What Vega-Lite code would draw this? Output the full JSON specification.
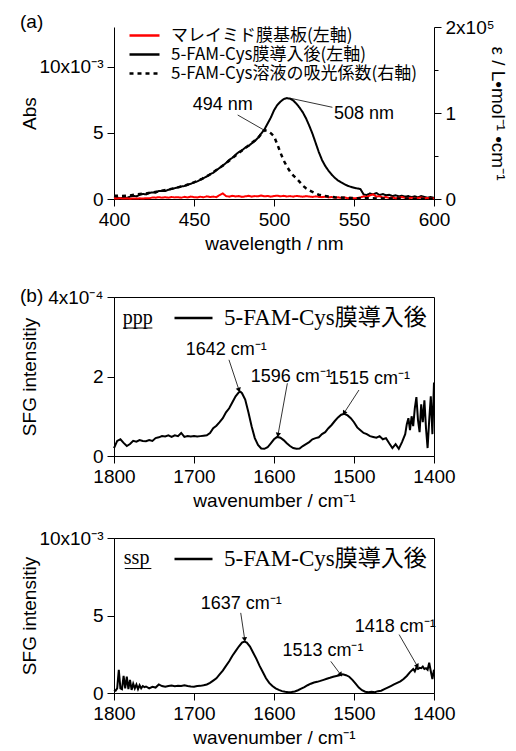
{
"$schema": "https://vega.github.io/schema/vega-lite/v6.json",
"autosize": {"type": "pad"},
"padding": {"left": 19, "top": 13, "right": 2, "bottom": 0},
"config": {
  "font": "Liberation Sans",
  "view": {"stroke": "black", "strokeWidth": 1},
  "axis": {"grid": false, "domainColor": "black", "tickColor": "black", "labelColor": "black", "titleColor": "black", "labelFont": "Liberation Sans", "titleFont": "Liberation Sans", "labelFontSize": 19, "titleFontSize": 19, "titleFontWeight": "normal", "tickSize": 7, "labelPadding": 4, "domainWidth": 1, "labelOverlap": false, "labelFlush": false},
  "legend": {"labelLimit": 500},
  "title": {"font": "Liberation Sans", "fontSize": 19, "fontWeight": "normal", "color": "black"}
},
"datasets": {
  "abs": [
    {"wl":400,"a":0.05e-3,"s":"5-FAM-Cys膜導入後(左軸)"},{"wl":402,"a":0.1e-3,"s":"5-FAM-Cys膜導入後(左軸)"},{"wl":404,"a":0.05e-3,"s":"5-FAM-Cys膜導入後(左軸)"},{"wl":406,"a":0.12e-3,"s":"5-FAM-Cys膜導入後(左軸)"},{"wl":408,"a":0.08e-3,"s":"5-FAM-Cys膜導入後(左軸)"},{"wl":410,"a":0.18e-3,"s":"5-FAM-Cys膜導入後(左軸)"},{"wl":412,"a":0.25e-3,"s":"5-FAM-Cys膜導入後(左軸)"},{"wl":414,"a":0.2e-3,"s":"5-FAM-Cys膜導入後(左軸)"},{"wl":416,"a":0.32e-3,"s":"5-FAM-Cys膜導入後(左軸)"},{"wl":418,"a":0.38e-3,"s":"5-FAM-Cys膜導入後(左軸)"},
    {"wl":420,"a":0.35e-3,"s":"5-FAM-Cys膜導入後(左軸)"},{"wl":422,"a":0.45e-3,"s":"5-FAM-Cys膜導入後(左軸)"},{"wl":424,"a":0.5e-3,"s":"5-FAM-Cys膜導入後(左軸)"},{"wl":426,"a":0.48e-3,"s":"5-FAM-Cys膜導入後(左軸)"},{"wl":428,"a":0.6e-3,"s":"5-FAM-Cys膜導入後(左軸)"},{"wl":430,"a":0.62e-3,"s":"5-FAM-Cys膜導入後(左軸)"},{"wl":432,"a":0.6e-3,"s":"5-FAM-Cys膜導入後(左軸)"},{"wl":434,"a":0.7e-3,"s":"5-FAM-Cys膜導入後(左軸)"},{"wl":436,"a":0.75e-3,"s":"5-FAM-Cys膜導入後(左軸)"},{"wl":438,"a":0.82e-3,"s":"5-FAM-Cys膜導入後(左軸)"},
    {"wl":440,"a":0.88e-3,"s":"5-FAM-Cys膜導入後(左軸)"},{"wl":442,"a":0.95e-3,"s":"5-FAM-Cys膜導入後(左軸)"},{"wl":444,"a":0.98e-3,"s":"5-FAM-Cys膜導入後(左軸)"},{"wl":446,"a":1.08e-3,"s":"5-FAM-Cys膜導入後(左軸)"},{"wl":448,"a":1.15e-3,"s":"5-FAM-Cys膜導入後(左軸)"},{"wl":450,"a":1.26e-3,"s":"5-FAM-Cys膜導入後(左軸)"},{"wl":452,"a":1.33e-3,"s":"5-FAM-Cys膜導入後(左軸)"},{"wl":454,"a":1.45e-3,"s":"5-FAM-Cys膜導入後(左軸)"},{"wl":456,"a":1.58e-3,"s":"5-FAM-Cys膜導入後(左軸)"},{"wl":458,"a":1.7e-3,"s":"5-FAM-Cys膜導入後(左軸)"},
    {"wl":460,"a":1.87e-3,"s":"5-FAM-Cys膜導入後(左軸)"},{"wl":462,"a":1.98e-3,"s":"5-FAM-Cys膜導入後(左軸)"},{"wl":464,"a":2.18e-3,"s":"5-FAM-Cys膜導入後(左軸)"},{"wl":466,"a":2.35e-3,"s":"5-FAM-Cys膜導入後(左軸)"},{"wl":468,"a":2.52e-3,"s":"5-FAM-Cys膜導入後(左軸)"},{"wl":470,"a":2.72e-3,"s":"5-FAM-Cys膜導入後(左軸)"},{"wl":472,"a":2.95e-3,"s":"5-FAM-Cys膜導入後(左軸)"},{"wl":474,"a":3.12e-3,"s":"5-FAM-Cys膜導入後(左軸)"},{"wl":476,"a":3.35e-3,"s":"5-FAM-Cys膜導入後(左軸)"},{"wl":478,"a":3.55e-3,"s":"5-FAM-Cys膜導入後(左軸)"},
    {"wl":480,"a":3.68e-3,"s":"5-FAM-Cys膜導入後(左軸)"},{"wl":482,"a":3.88e-3,"s":"5-FAM-Cys膜導入後(左軸)"},{"wl":484,"a":4.0e-3,"s":"5-FAM-Cys膜導入後(左軸)"},{"wl":486,"a":4.2e-3,"s":"5-FAM-Cys膜導入後(左軸)"},{"wl":488,"a":4.38e-3,"s":"5-FAM-Cys膜導入後(左軸)"},{"wl":490,"a":4.62e-3,"s":"5-FAM-Cys膜導入後(左軸)"},{"wl":492,"a":4.95e-3,"s":"5-FAM-Cys膜導入後(左軸)"},{"wl":494,"a":5.25e-3,"s":"5-FAM-Cys膜導入後(左軸)"},{"wl":496,"a":5.7e-3,"s":"5-FAM-Cys膜導入後(左軸)"},{"wl":498,"a":6.15e-3,"s":"5-FAM-Cys膜導入後(左軸)"},
    {"wl":500,"a":6.7e-3,"s":"5-FAM-Cys膜導入後(左軸)"},{"wl":502,"a":7.1e-3,"s":"5-FAM-Cys膜導入後(左軸)"},{"wl":504,"a":7.35e-3,"s":"5-FAM-Cys膜導入後(左軸)"},{"wl":506,"a":7.55e-3,"s":"5-FAM-Cys膜導入後(左軸)"},{"wl":508,"a":7.63e-3,"s":"5-FAM-Cys膜導入後(左軸)"},{"wl":510,"a":7.58e-3,"s":"5-FAM-Cys膜導入後(左軸)"},{"wl":512,"a":7.45e-3,"s":"5-FAM-Cys膜導入後(左軸)"},{"wl":514,"a":7.2e-3,"s":"5-FAM-Cys膜導入後(左軸)"},{"wl":516,"a":6.9e-3,"s":"5-FAM-Cys膜導入後(左軸)"},{"wl":518,"a":6.55e-3,"s":"5-FAM-Cys膜導入後(左軸)"},
    {"wl":520,"a":6.1e-3,"s":"5-FAM-Cys膜導入後(左軸)"},{"wl":522,"a":5.55e-3,"s":"5-FAM-Cys膜導入後(左軸)"},{"wl":524,"a":4.95e-3,"s":"5-FAM-Cys膜導入後(左軸)"},{"wl":526,"a":4.25e-3,"s":"5-FAM-Cys膜導入後(左軸)"},{"wl":528,"a":3.55e-3,"s":"5-FAM-Cys膜導入後(左軸)"},{"wl":530,"a":2.95e-3,"s":"5-FAM-Cys膜導入後(左軸)"},{"wl":532,"a":2.5e-3,"s":"5-FAM-Cys膜導入後(左軸)"},{"wl":534,"a":2.15e-3,"s":"5-FAM-Cys膜導入後(左軸)"},{"wl":536,"a":1.85e-3,"s":"5-FAM-Cys膜導入後(左軸)"},{"wl":538,"a":1.6e-3,"s":"5-FAM-Cys膜導入後(左軸)"},
    {"wl":540,"a":1.4e-3,"s":"5-FAM-Cys膜導入後(左軸)"},{"wl":542,"a":1.25e-3,"s":"5-FAM-Cys膜導入後(左軸)"},{"wl":544,"a":1.12e-3,"s":"5-FAM-Cys膜導入後(左軸)"},{"wl":546,"a":1.0e-3,"s":"5-FAM-Cys膜導入後(左軸)"},{"wl":548,"a":0.92e-3,"s":"5-FAM-Cys膜導入後(左軸)"},{"wl":550,"a":0.85e-3,"s":"5-FAM-Cys膜導入後(左軸)"},{"wl":552,"a":0.8e-3,"s":"5-FAM-Cys膜導入後(左軸)"},{"wl":554,"a":0.75e-3,"s":"5-FAM-Cys膜導入後(左軸)"},{"wl":556,"a":0.35e-3,"s":"5-FAM-Cys膜導入後(左軸)"},{"wl":558,"a":0.3e-3,"s":"5-FAM-Cys膜導入後(左軸)"},
    {"wl":560,"a":0.42e-3,"s":"5-FAM-Cys膜導入後(左軸)"},{"wl":562,"a":0.35e-3,"s":"5-FAM-Cys膜導入後(左軸)"},{"wl":564,"a":0.45e-3,"s":"5-FAM-Cys膜導入後(左軸)"},{"wl":566,"a":0.3e-3,"s":"5-FAM-Cys膜導入後(左軸)"},{"wl":568,"a":0.38e-3,"s":"5-FAM-Cys膜導入後(左軸)"},{"wl":570,"a":0.28e-3,"s":"5-FAM-Cys膜導入後(左軸)"},{"wl":572,"a":0.32e-3,"s":"5-FAM-Cys膜導入後(左軸)"},{"wl":574,"a":0.22e-3,"s":"5-FAM-Cys膜導入後(左軸)"},{"wl":576,"a":0.28e-3,"s":"5-FAM-Cys膜導入後(左軸)"},{"wl":578,"a":0.2e-3,"s":"5-FAM-Cys膜導入後(左軸)"},
    {"wl":580,"a":0.25e-3,"s":"5-FAM-Cys膜導入後(左軸)"},{"wl":582,"a":0.18e-3,"s":"5-FAM-Cys膜導入後(左軸)"},{"wl":584,"a":0.22e-3,"s":"5-FAM-Cys膜導入後(左軸)"},{"wl":586,"a":0.15e-3,"s":"5-FAM-Cys膜導入後(左軸)"},{"wl":588,"a":0.2e-3,"s":"5-FAM-Cys膜導入後(左軸)"},{"wl":590,"a":0.12e-3,"s":"5-FAM-Cys膜導入後(左軸)"},{"wl":592,"a":0.22e-3,"s":"5-FAM-Cys膜導入後(左軸)"},{"wl":594,"a":0.15e-3,"s":"5-FAM-Cys膜導入後(左軸)"},{"wl":596,"a":0.1e-3,"s":"5-FAM-Cys膜導入後(左軸)"},{"wl":598,"a":0.15e-3,"s":"5-FAM-Cys膜導入後(左軸)"},{"wl":600,"a":0.08e-3,"s":"5-FAM-Cys膜導入後(左軸)"},
    {"wl":400,"a":0.05e-3,"s":"マレイミド膜基板(左軸)"},{"wl":402,"a":0.04e-3,"s":"マレイミド膜基板(左軸)"},{"wl":404,"a":0.06e-3,"s":"マレイミド膜基板(左軸)"},{"wl":406,"a":0.03e-3,"s":"マレイミド膜基板(左軸)"},{"wl":408,"a":0.05e-3,"s":"マレイミド膜基板(左軸)"},{"wl":410,"a":0.02e-3,"s":"マレイミド膜基板(左軸)"},{"wl":412,"a":0.04e-3,"s":"マレイミド膜基板(左軸)"},{"wl":414,"a":0.03e-3,"s":"マレイミド膜基板(左軸)"},{"wl":416,"a":0.05e-3,"s":"マレイミド膜基板(左軸)"},{"wl":418,"a":0.04e-3,"s":"マレイミド膜基板(左軸)"},
    {"wl":420,"a":0.06e-3,"s":"マレイミド膜基板(左軸)"},{"wl":422,"a":0.05e-3,"s":"マレイミド膜基板(左軸)"},{"wl":424,"a":0.12e-3,"s":"マレイミド膜基板(左軸)"},{"wl":426,"a":0.1e-3,"s":"マレイミド膜基板(左軸)"},{"wl":428,"a":0.14e-3,"s":"マレイミド膜基板(左軸)"},{"wl":430,"a":0.1e-3,"s":"マレイミド膜基板(左軸)"},{"wl":432,"a":0.13e-3,"s":"マレイミド膜基板(左軸)"},{"wl":434,"a":0.1e-3,"s":"マレイミド膜基板(左軸)"},{"wl":436,"a":0.15e-3,"s":"マレイミド膜基板(左軸)"},{"wl":438,"a":0.12e-3,"s":"マレイミド膜基板(左軸)"},
    {"wl":440,"a":0.14e-3,"s":"マレイミド膜基板(左軸)"},{"wl":442,"a":0.1e-3,"s":"マレイミド膜基板(左軸)"},{"wl":444,"a":0.16e-3,"s":"マレイミド膜基板(左軸)"},{"wl":446,"a":0.12e-3,"s":"マレイミド膜基板(左軸)"},{"wl":448,"a":0.18e-3,"s":"マレイミド膜基板(左軸)"},{"wl":450,"a":0.14e-3,"s":"マレイミド膜基板(左軸)"},{"wl":452,"a":0.12e-3,"s":"マレイミド膜基板(左軸)"},{"wl":454,"a":0.17e-3,"s":"マレイミド膜基板(左軸)"},{"wl":456,"a":0.13e-3,"s":"マレイミド膜基板(左軸)"},{"wl":458,"a":0.2e-3,"s":"マレイミド膜基板(左軸)"},
    {"wl":460,"a":0.15e-3,"s":"マレイミド膜基板(左軸)"},{"wl":462,"a":0.18e-3,"s":"マレイミド膜基板(左軸)"},{"wl":464,"a":0.14e-3,"s":"マレイミド膜基板(左軸)"},{"wl":466,"a":0.3e-3,"s":"マレイミド膜基板(左軸)"},{"wl":468,"a":0.42e-3,"s":"マレイミド膜基板(左軸)"},{"wl":470,"a":0.22e-3,"s":"マレイミド膜基板(左軸)"},{"wl":472,"a":0.18e-3,"s":"マレイミド膜基板(左軸)"},{"wl":474,"a":0.24e-3,"s":"マレイミド膜基板(左軸)"},{"wl":476,"a":0.19e-3,"s":"マレイミド膜基板(左軸)"},{"wl":478,"a":0.22e-3,"s":"マレイミド膜基板(左軸)"},
    {"wl":480,"a":0.16e-3,"s":"マレイミド膜基板(左軸)"},{"wl":482,"a":0.2e-3,"s":"マレイミド膜基板(左軸)"},{"wl":484,"a":0.24e-3,"s":"マレイミド膜基板(左軸)"},{"wl":486,"a":0.18e-3,"s":"マレイミド膜基板(左軸)"},{"wl":488,"a":0.22e-3,"s":"マレイミド膜基板(左軸)"},{"wl":490,"a":0.2e-3,"s":"マレイミド膜基板(左軸)"},{"wl":492,"a":0.26e-3,"s":"マレイミド膜基板(左軸)"},{"wl":494,"a":0.2e-3,"s":"マレイミド膜基板(左軸)"},{"wl":496,"a":0.23e-3,"s":"マレイミド膜基板(左軸)"},{"wl":498,"a":0.18e-3,"s":"マレイミド膜基板(左軸)"},
    {"wl":500,"a":0.22e-3,"s":"マレイミド膜基板(左軸)"},{"wl":502,"a":0.25e-3,"s":"マレイミド膜基板(左軸)"},{"wl":504,"a":0.2e-3,"s":"マレイミド膜基板(左軸)"},{"wl":506,"a":0.24e-3,"s":"マレイミド膜基板(左軸)"},{"wl":508,"a":0.19e-3,"s":"マレイミド膜基板(左軸)"},{"wl":510,"a":0.22e-3,"s":"マレイミド膜基板(左軸)"},{"wl":512,"a":0.18e-3,"s":"マレイミド膜基板(左軸)"},{"wl":514,"a":0.23e-3,"s":"マレイミド膜基板(左軸)"},{"wl":516,"a":0.2e-3,"s":"マレイミド膜基板(左軸)"},{"wl":518,"a":0.17e-3,"s":"マレイミド膜基板(左軸)"},
    {"wl":520,"a":0.22e-3,"s":"マレイミド膜基板(左軸)"},{"wl":522,"a":0.19e-3,"s":"マレイミド膜基板(左軸)"},{"wl":524,"a":0.15e-3,"s":"マレイミド膜基板(左軸)"},{"wl":526,"a":0.2e-3,"s":"マレイミド膜基板(左軸)"},{"wl":528,"a":0.16e-3,"s":"マレイミド膜基板(左軸)"},{"wl":530,"a":0.14e-3,"s":"マレイミド膜基板(左軸)"},{"wl":532,"a":0.18e-3,"s":"マレイミド膜基板(左軸)"},{"wl":534,"a":0.12e-3,"s":"マレイミド膜基板(左軸)"},{"wl":536,"a":0.15e-3,"s":"マレイミド膜基板(左軸)"},{"wl":538,"a":0.1e-3,"s":"マレイミド膜基板(左軸)"},
    {"wl":540,"a":0.13e-3,"s":"マレイミド膜基板(左軸)"},{"wl":542,"a":0.08e-3,"s":"マレイミド膜基板(左軸)"},{"wl":544,"a":0.12e-3,"s":"マレイミド膜基板(左軸)"},{"wl":546,"a":0.06e-3,"s":"マレイミド膜基板(左軸)"},{"wl":548,"a":0.1e-3,"s":"マレイミド膜基板(左軸)"},{"wl":550,"a":0.05e-3,"s":"マレイミド膜基板(左軸)"},{"wl":552,"a":0.08e-3,"s":"マレイミド膜基板(左軸)"},{"wl":554,"a":0.12e-3,"s":"マレイミド膜基板(左軸)"},{"wl":556,"a":0.2e-3,"s":"マレイミド膜基板(左軸)"},{"wl":558,"a":0.15e-3,"s":"マレイミド膜基板(左軸)"},
    {"wl":560,"a":0.28e-3,"s":"マレイミド膜基板(左軸)"},{"wl":562,"a":0.35e-3,"s":"マレイミド膜基板(左軸)"},{"wl":564,"a":0.18e-3,"s":"マレイミド膜基板(左軸)"},{"wl":566,"a":0.22e-3,"s":"マレイミド膜基板(左軸)"},{"wl":568,"a":0.1e-3,"s":"マレイミド膜基板(左軸)"},{"wl":570,"a":0.15e-3,"s":"マレイミド膜基板(左軸)"},{"wl":572,"a":0.08e-3,"s":"マレイミド膜基板(左軸)"},{"wl":574,"a":0.12e-3,"s":"マレイミド膜基板(左軸)"},{"wl":576,"a":0.05e-3,"s":"マレイミド膜基板(左軸)"},{"wl":578,"a":0.1e-3,"s":"マレイミド膜基板(左軸)"},
    {"wl":580,"a":0.15e-3,"s":"マレイミド膜基板(左軸)"},{"wl":582,"a":0.08e-3,"s":"マレイミド膜基板(左軸)"},{"wl":584,"a":0.05e-3,"s":"マレイミド膜基板(左軸)"},{"wl":586,"a":0.1e-3,"s":"マレイミド膜基板(左軸)"},{"wl":588,"a":0.04e-3,"s":"マレイミド膜基板(左軸)"},{"wl":590,"a":0.08e-3,"s":"マレイミド膜基板(左軸)"},{"wl":592,"a":0.12e-3,"s":"マレイミド膜基板(左軸)"},{"wl":594,"a":0.05e-3,"s":"マレイミド膜基板(左軸)"},{"wl":596,"a":0.08e-3,"s":"マレイミド膜基板(左軸)"},{"wl":598,"a":0.03e-3,"s":"マレイミド膜基板(左軸)"},{"wl":600,"a":0.06e-3,"s":"マレイミド膜基板(左軸)"}
  ],
  "eps": [
    {"wl":400,"e":3800},{"wl":405,"e":3500},{"wl":410,"e":4200},{"wl":415,"e":5500},{"wl":420,"e":6500},{"wl":425,"e":8000},{"wl":430,"e":9700},{"wl":435,"e":11500},{"wl":440,"e":13500},{"wl":445,"e":16000},{"wl":450,"e":19400},{"wl":455,"e":23500},{"wl":460,"e":28500},{"wl":465,"e":35000},{"wl":470,"e":41500},{"wl":475,"e":49000},{"wl":480,"e":56500},{"wl":485,"e":63500},{"wl":490,"e":71000},{"wl":494,"e":80000},{"wl":496,"e":79000},{"wl":498,"e":76500},{"wl":500,"e":73000},{"wl":502,"e":64000},{"wl":504,"e":54000},{"wl":506,"e":45000},{"wl":508,"e":38000},{"wl":510,"e":32000},{"wl":512,"e":27500},{"wl":514,"e":24000},{"wl":516,"e":20000},{"wl":518,"e":15500},{"wl":520,"e":12500},{"wl":522,"e":10000},{"wl":524,"e":8200},{"wl":526,"e":6500},{"wl":528,"e":5000},{"wl":530,"e":4000},{"wl":534,"e":2800},{"wl":538,"e":2000},{"wl":545,"e":1300},{"wl":550,"e":1000},{"wl":560,"e":800},{"wl":570,"e":600},{"wl":580,"e":500},{"wl":590,"e":400},{"wl":600,"e":400}
  ],
  "annA": [{"x":449.2,"y":7.1e-3,"t":"494 nm"},{"x":537.5,"y":6.4e-3,"t":"508 nm"}],
  "leadA": [{"x":477.3,"y":6.35e-3,"x2":493.6,"y2":5.22e-3},{"x":510,"y":7.62e-3,"x2":536.5,"y2":6.93e-3}],
  "sfgP": [
    {"n":1800,"v":0.2e-4,"p":"5-FAM-Cys膜導入後"},{"n":1796,"v":0.38e-4,"p":"5-FAM-Cys膜導入後"},{"n":1792,"v":0.42e-4,"p":"5-FAM-Cys膜導入後"},{"n":1788,"v":0.33e-4,"p":"5-FAM-Cys膜導入後"},{"n":1784,"v":0.25e-4,"p":"5-FAM-Cys膜導入後"},{"n":1780,"v":0.3e-4,"p":"5-FAM-Cys膜導入後"},{"n":1776,"v":0.38e-4,"p":"5-FAM-Cys膜導入後"},{"n":1772,"v":0.36e-4,"p":"5-FAM-Cys膜導入後"},{"n":1768,"v":0.4e-4,"p":"5-FAM-Cys膜導入後"},{"n":1764,"v":0.38e-4,"p":"5-FAM-Cys膜導入後"},
    {"n":1760,"v":0.37e-4,"p":"5-FAM-Cys膜導入後"},{"n":1756,"v":0.4e-4,"p":"5-FAM-Cys膜導入後"},{"n":1752,"v":0.38e-4,"p":"5-FAM-Cys膜導入後"},{"n":1748,"v":0.45e-4,"p":"5-FAM-Cys膜導入後"},{"n":1744,"v":0.47e-4,"p":"5-FAM-Cys膜導入後"},{"n":1740,"v":0.5e-4,"p":"5-FAM-Cys膜導入後"},{"n":1736,"v":0.49e-4,"p":"5-FAM-Cys膜導入後"},{"n":1732,"v":0.52e-4,"p":"5-FAM-Cys膜導入後"},{"n":1728,"v":0.48e-4,"p":"5-FAM-Cys膜導入後"},{"n":1724,"v":0.52e-4,"p":"5-FAM-Cys膜導入後"},
    {"n":1720,"v":0.5e-4,"p":"5-FAM-Cys膜導入後"},{"n":1716,"v":0.58e-4,"p":"5-FAM-Cys膜導入後"},{"n":1712,"v":0.48e-4,"p":"5-FAM-Cys膜導入後"},{"n":1708,"v":0.5e-4,"p":"5-FAM-Cys膜導入後"},{"n":1704,"v":0.49e-4,"p":"5-FAM-Cys膜導入後"},{"n":1700,"v":0.5e-4,"p":"5-FAM-Cys膜導入後"},{"n":1696,"v":0.49e-4,"p":"5-FAM-Cys膜導入後"},{"n":1692,"v":0.5e-4,"p":"5-FAM-Cys膜導入後"},{"n":1688,"v":0.51e-4,"p":"5-FAM-Cys膜導入後"},{"n":1684,"v":0.52e-4,"p":"5-FAM-Cys膜導入後"},
    {"n":1680,"v":0.58e-4,"p":"5-FAM-Cys膜導入後"},{"n":1676,"v":0.7e-4,"p":"5-FAM-Cys膜導入後"},{"n":1672,"v":0.76e-4,"p":"5-FAM-Cys膜導入後"},{"n":1668,"v":0.85e-4,"p":"5-FAM-Cys膜導入後"},{"n":1664,"v":0.95e-4,"p":"5-FAM-Cys膜導入後"},{"n":1660,"v":1.1e-4,"p":"5-FAM-Cys膜導入後"},{"n":1656,"v":1.2e-4,"p":"5-FAM-Cys膜導入後"},{"n":1652,"v":1.35e-4,"p":"5-FAM-Cys膜導入後"},{"n":1648,"v":1.5e-4,"p":"5-FAM-Cys膜導入後"},{"n":1644,"v":1.6e-4,"p":"5-FAM-Cys膜導入後"},
    {"n":1642,"v":1.62e-4,"p":"5-FAM-Cys膜導入後"},{"n":1640,"v":1.58e-4,"p":"5-FAM-Cys膜導入後"},{"n":1636,"v":1.42e-4,"p":"5-FAM-Cys膜導入後"},{"n":1632,"v":1.1e-4,"p":"5-FAM-Cys膜導入後"},{"n":1628,"v":0.75e-4,"p":"5-FAM-Cys膜導入後"},{"n":1624,"v":0.45e-4,"p":"5-FAM-Cys膜導入後"},{"n":1620,"v":0.28e-4,"p":"5-FAM-Cys膜導入後"},{"n":1616,"v":0.19e-4,"p":"5-FAM-Cys膜導入後"},{"n":1612,"v":0.18e-4,"p":"5-FAM-Cys膜導入後"},{"n":1608,"v":0.22e-4,"p":"5-FAM-Cys膜導入後"},
    {"n":1604,"v":0.32e-4,"p":"5-FAM-Cys膜導入後"},{"n":1600,"v":0.42e-4,"p":"5-FAM-Cys膜導入後"},{"n":1596,"v":0.48e-4,"p":"5-FAM-Cys膜導入後"},{"n":1592,"v":0.46e-4,"p":"5-FAM-Cys膜導入後"},{"n":1588,"v":0.4e-4,"p":"5-FAM-Cys膜導入後"},{"n":1584,"v":0.32e-4,"p":"5-FAM-Cys膜導入後"},{"n":1580,"v":0.25e-4,"p":"5-FAM-Cys膜導入後"},{"n":1576,"v":0.2e-4,"p":"5-FAM-Cys膜導入後"},{"n":1572,"v":0.18e-4,"p":"5-FAM-Cys膜導入後"},{"n":1568,"v":0.19e-4,"p":"5-FAM-Cys膜導入後"},
    {"n":1564,"v":0.25e-4,"p":"5-FAM-Cys膜導入後"},{"n":1560,"v":0.3e-4,"p":"5-FAM-Cys膜導入後"},{"n":1556,"v":0.35e-4,"p":"5-FAM-Cys膜導入後"},{"n":1552,"v":0.42e-4,"p":"5-FAM-Cys膜導入後"},{"n":1548,"v":0.45e-4,"p":"5-FAM-Cys膜導入後"},{"n":1544,"v":0.47e-4,"p":"5-FAM-Cys膜導入後"},{"n":1540,"v":0.55e-4,"p":"5-FAM-Cys膜導入後"},{"n":1536,"v":0.6e-4,"p":"5-FAM-Cys膜導入後"},{"n":1532,"v":0.7e-4,"p":"5-FAM-Cys膜導入後"},{"n":1528,"v":0.78e-4,"p":"5-FAM-Cys膜導入後"},
    {"n":1524,"v":0.88e-4,"p":"5-FAM-Cys膜導入後"},{"n":1520,"v":0.97e-4,"p":"5-FAM-Cys膜導入後"},{"n":1516,"v":1.04e-4,"p":"5-FAM-Cys膜導入後"},{"n":1512,"v":1.06e-4,"p":"5-FAM-Cys膜導入後"},{"n":1508,"v":1.02e-4,"p":"5-FAM-Cys膜導入後"},{"n":1504,"v":0.95e-4,"p":"5-FAM-Cys膜導入後"},{"n":1500,"v":0.85e-4,"p":"5-FAM-Cys膜導入後"},{"n":1496,"v":0.72e-4,"p":"5-FAM-Cys膜導入後"},{"n":1492,"v":0.65e-4,"p":"5-FAM-Cys膜導入後"},{"n":1488,"v":0.58e-4,"p":"5-FAM-Cys膜導入後"},
    {"n":1484,"v":0.55e-4,"p":"5-FAM-Cys膜導入後"},{"n":1480,"v":0.5e-4,"p":"5-FAM-Cys膜導入後"},{"n":1476,"v":0.48e-4,"p":"5-FAM-Cys膜導入後"},{"n":1472,"v":0.46e-4,"p":"5-FAM-Cys膜導入後"},{"n":1468,"v":0.5e-4,"p":"5-FAM-Cys膜導入後"},{"n":1464,"v":0.42e-4,"p":"5-FAM-Cys膜導入後"},{"n":1460,"v":0.45e-4,"p":"5-FAM-Cys膜導入後"},{"n":1456,"v":0.32e-4,"p":"5-FAM-Cys膜導入後"},{"n":1452,"v":0.2e-4,"p":"5-FAM-Cys膜導入後"},{"n":1448,"v":0.3e-4,"p":"5-FAM-Cys膜導入後"},
    {"n":1444,"v":0.18e-4,"p":"5-FAM-Cys膜導入後"},{"n":1440,"v":0.35e-4,"p":"5-FAM-Cys膜導入後"},{"n":1436,"v":0.55e-4,"p":"5-FAM-Cys膜導入後"},{"n":1434,"v":0.8e-4,"p":"5-FAM-Cys膜導入後"},{"n":1432,"v":0.95e-4,"p":"5-FAM-Cys膜導入後"},{"n":1430,"v":0.65e-4,"p":"5-FAM-Cys膜導入後"},{"n":1428,"v":1.0e-4,"p":"5-FAM-Cys膜導入後"},{"n":1426,"v":0.75e-4,"p":"5-FAM-Cys膜導入後"},{"n":1424,"v":1.2e-4,"p":"5-FAM-Cys膜導入後"},{"n":1422,"v":1.48e-4,"p":"5-FAM-Cys膜導入後"},
    {"n":1420,"v":0.9e-4,"p":"5-FAM-Cys膜導入後"},{"n":1418,"v":0.6e-4,"p":"5-FAM-Cys膜導入後"},{"n":1416,"v":1.3e-4,"p":"5-FAM-Cys膜導入後"},{"n":1414,"v":0.85e-4,"p":"5-FAM-Cys膜導入後"},{"n":1412,"v":1.4e-4,"p":"5-FAM-Cys膜導入後"},{"n":1410,"v":0.7e-4,"p":"5-FAM-Cys膜導入後"},{"n":1408,"v":0.2e-4,"p":"5-FAM-Cys膜導入後"},{"n":1406,"v":0.9e-4,"p":"5-FAM-Cys膜導入後"},{"n":1404,"v":1.5e-4,"p":"5-FAM-Cys膜導入後"},{"n":1402,"v":0.55e-4,"p":"5-FAM-Cys膜導入後"},{"n":1400,"v":1.85e-4,"p":"5-FAM-Cys膜導入後"}
  ],
  "annP": [{"x":1710.4,"y":2.67e-4,"t":"1642 cm⁻¹"},{"x":1629.1,"y":2.0e-4,"t":"1596 cm⁻¹"},{"x":1531.2,"y":1.94e-4,"t":"1515 cm⁻¹"}],
  "leadP": [{"x":1656.3,"y":2.42e-4,"x2":1643.8,"y2":1.66e-4,"k":1},{"x":1583.3,"y":1.83e-4,"x2":1595.0,"y2":0.53e-4,"k":2},{"x":1493.8,"y":1.66e-4,"x2":1512.5,"y2":1.08e-4,"k":3}],
  "polP": [{"x":1789,"y":3.48e-4,"t":"ppp"}],
  "ulP": [{"x":1788.7,"x2":1752,"y":3.22e-4}],
  "sfgS": [
    {"n":1800,"v":0.2e-3,"q":"5-FAM-Cys膜導入後"},{"n":1798,"v":0.15e-3,"q":"5-FAM-Cys膜導入後"},{"n":1796,"v":0.3e-3,"q":"5-FAM-Cys膜導入後"},{"n":1794,"v":1.5e-3,"q":"5-FAM-Cys膜導入後"},{"n":1792,"v":0.3e-3,"q":"5-FAM-Cys膜導入後"},{"n":1790,"v":0.25e-3,"q":"5-FAM-Cys膜導入後"},{"n":1788,"v":1.1e-3,"q":"5-FAM-Cys膜導入後"},{"n":1786,"v":0.3e-3,"q":"5-FAM-Cys膜導入後"},{"n":1784,"v":1.05e-3,"q":"5-FAM-Cys膜導入後"},{"n":1782,"v":0.25e-3,"q":"5-FAM-Cys膜導入後"},
    {"n":1780,"v":0.85e-3,"q":"5-FAM-Cys膜導入後"},{"n":1778,"v":0.2e-3,"q":"5-FAM-Cys膜導入後"},{"n":1776,"v":0.6e-3,"q":"5-FAM-Cys膜導入後"},{"n":1774,"v":0.3e-3,"q":"5-FAM-Cys膜導入後"},{"n":1772,"v":0.55e-3,"q":"5-FAM-Cys膜導入後"},{"n":1770,"v":0.25e-3,"q":"5-FAM-Cys膜導入後"},{"n":1768,"v":0.5e-3,"q":"5-FAM-Cys膜導入後"},{"n":1766,"v":0.3e-3,"q":"5-FAM-Cys膜導入後"},{"n":1764,"v":0.45e-3,"q":"5-FAM-Cys膜導入後"},{"n":1762,"v":0.38e-3,"q":"5-FAM-Cys膜導入後"},
    {"n":1760,"v":0.42e-3,"q":"5-FAM-Cys膜導入後"},{"n":1756,"v":0.3e-3,"q":"5-FAM-Cys膜導入後"},{"n":1752,"v":0.4e-3,"q":"5-FAM-Cys膜導入後"},{"n":1748,"v":0.35e-3,"q":"5-FAM-Cys膜導入後"},{"n":1744,"v":0.55e-3,"q":"5-FAM-Cys膜導入後"},{"n":1740,"v":0.45e-3,"q":"5-FAM-Cys膜導入後"},{"n":1736,"v":0.4e-3,"q":"5-FAM-Cys膜導入後"},{"n":1732,"v":0.45e-3,"q":"5-FAM-Cys膜導入後"},{"n":1728,"v":0.48e-3,"q":"5-FAM-Cys膜導入後"},{"n":1724,"v":0.44e-3,"q":"5-FAM-Cys膜導入後"},
    {"n":1720,"v":0.47e-3,"q":"5-FAM-Cys膜導入後"},{"n":1716,"v":0.45e-3,"q":"5-FAM-Cys膜導入後"},{"n":1712,"v":0.5e-3,"q":"5-FAM-Cys膜導入後"},{"n":1708,"v":0.45e-3,"q":"5-FAM-Cys膜導入後"},{"n":1704,"v":0.42e-3,"q":"5-FAM-Cys膜導入後"},{"n":1700,"v":0.4e-3,"q":"5-FAM-Cys膜導入後"},{"n":1696,"v":0.45e-3,"q":"5-FAM-Cys膜導入後"},{"n":1692,"v":0.46e-3,"q":"5-FAM-Cys膜導入後"},{"n":1688,"v":0.5e-3,"q":"5-FAM-Cys膜導入後"},{"n":1684,"v":0.55e-3,"q":"5-FAM-Cys膜導入後"},
    {"n":1680,"v":0.65e-3,"q":"5-FAM-Cys膜導入後"},{"n":1676,"v":0.8e-3,"q":"5-FAM-Cys膜導入後"},{"n":1672,"v":0.95e-3,"q":"5-FAM-Cys膜導入後"},{"n":1668,"v":1.2e-3,"q":"5-FAM-Cys膜導入後"},{"n":1664,"v":1.45e-3,"q":"5-FAM-Cys膜導入後"},{"n":1660,"v":1.75e-3,"q":"5-FAM-Cys膜導入後"},{"n":1656,"v":2.05e-3,"q":"5-FAM-Cys膜導入後"},{"n":1652,"v":2.4e-3,"q":"5-FAM-Cys膜導入後"},{"n":1648,"v":2.7e-3,"q":"5-FAM-Cys膜導入後"},{"n":1644,"v":3.0e-3,"q":"5-FAM-Cys膜導入後"},
    {"n":1640,"v":3.25e-3,"q":"5-FAM-Cys膜導入後"},{"n":1637,"v":3.32e-3,"q":"5-FAM-Cys膜導入後"},{"n":1634,"v":3.25e-3,"q":"5-FAM-Cys膜導入後"},{"n":1630,"v":3.0e-3,"q":"5-FAM-Cys膜導入後"},{"n":1626,"v":2.6e-3,"q":"5-FAM-Cys膜導入後"},{"n":1622,"v":2.2e-3,"q":"5-FAM-Cys膜導入後"},{"n":1618,"v":1.75e-3,"q":"5-FAM-Cys膜導入後"},{"n":1614,"v":1.35e-3,"q":"5-FAM-Cys膜導入後"},{"n":1610,"v":0.95e-3,"q":"5-FAM-Cys膜導入後"},{"n":1606,"v":0.65e-3,"q":"5-FAM-Cys膜導入後"},
    {"n":1602,"v":0.45e-3,"q":"5-FAM-Cys膜導入後"},{"n":1598,"v":0.3e-3,"q":"5-FAM-Cys膜導入後"},{"n":1594,"v":0.2e-3,"q":"5-FAM-Cys膜導入後"},{"n":1590,"v":0.12e-3,"q":"5-FAM-Cys膜導入後"},{"n":1586,"v":0.08e-3,"q":"5-FAM-Cys膜導入後"},{"n":1582,"v":0.05e-3,"q":"5-FAM-Cys膜導入後"},{"n":1578,"v":0.06e-3,"q":"5-FAM-Cys膜導入後"},{"n":1574,"v":0.1e-3,"q":"5-FAM-Cys膜導入後"},{"n":1570,"v":0.18e-3,"q":"5-FAM-Cys膜導入後"},{"n":1566,"v":0.28e-3,"q":"5-FAM-Cys膜導入後"},
    {"n":1562,"v":0.38e-3,"q":"5-FAM-Cys膜導入後"},{"n":1558,"v":0.5e-3,"q":"5-FAM-Cys膜導入後"},{"n":1554,"v":0.6e-3,"q":"5-FAM-Cys膜導入後"},{"n":1550,"v":0.68e-3,"q":"5-FAM-Cys膜導入後"},{"n":1546,"v":0.72e-3,"q":"5-FAM-Cys膜導入後"},{"n":1542,"v":0.78e-3,"q":"5-FAM-Cys膜導入後"},{"n":1538,"v":0.85e-3,"q":"5-FAM-Cys膜導入後"},{"n":1534,"v":0.92e-3,"q":"5-FAM-Cys膜導入後"},{"n":1530,"v":0.98e-3,"q":"5-FAM-Cys膜導入後"},{"n":1526,"v":1.05e-3,"q":"5-FAM-Cys膜導入後"},
    {"n":1522,"v":1.1e-3,"q":"5-FAM-Cys膜導入後"},{"n":1518,"v":1.15e-3,"q":"5-FAM-Cys膜導入後"},{"n":1514,"v":1.2e-3,"q":"5-FAM-Cys膜導入後"},{"n":1510,"v":1.15e-3,"q":"5-FAM-Cys膜導入後"},{"n":1506,"v":1.05e-3,"q":"5-FAM-Cys膜導入後"},{"n":1502,"v":0.85e-3,"q":"5-FAM-Cys膜導入後"},{"n":1498,"v":0.6e-3,"q":"5-FAM-Cys膜導入後"},{"n":1494,"v":0.35e-3,"q":"5-FAM-Cys膜導入後"},{"n":1490,"v":0.18e-3,"q":"5-FAM-Cys膜導入後"},{"n":1486,"v":0.08e-3,"q":"5-FAM-Cys膜導入後"},
    {"n":1482,"v":0.05e-3,"q":"5-FAM-Cys膜導入後"},{"n":1478,"v":0.08e-3,"q":"5-FAM-Cys膜導入後"},{"n":1474,"v":0.05e-3,"q":"5-FAM-Cys膜導入後"},{"n":1470,"v":0.12e-3,"q":"5-FAM-Cys膜導入後"},{"n":1466,"v":0.15e-3,"q":"5-FAM-Cys膜導入後"},{"n":1462,"v":0.25e-3,"q":"5-FAM-Cys膜導入後"},{"n":1458,"v":0.35e-3,"q":"5-FAM-Cys膜導入後"},{"n":1454,"v":0.45e-3,"q":"5-FAM-Cys膜導入後"},{"n":1450,"v":0.55e-3,"q":"5-FAM-Cys膜導入後"},{"n":1446,"v":0.65e-3,"q":"5-FAM-Cys膜導入後"},
    {"n":1442,"v":0.75e-3,"q":"5-FAM-Cys膜導入後"},{"n":1438,"v":0.9e-3,"q":"5-FAM-Cys膜導入後"},{"n":1434,"v":1.1e-3,"q":"5-FAM-Cys膜導入後"},{"n":1430,"v":1.35e-3,"q":"5-FAM-Cys膜導入後"},{"n":1426,"v":1.55e-3,"q":"5-FAM-Cys膜導入後"},{"n":1424,"v":1.4e-3,"q":"5-FAM-Cys膜導入後"},{"n":1422,"v":1.65e-3,"q":"5-FAM-Cys膜導入後"},{"n":1420,"v":1.55e-3,"q":"5-FAM-Cys膜導入後"},{"n":1418,"v":1.62e-3,"q":"5-FAM-Cys膜導入後"},{"n":1416,"v":1.6e-3,"q":"5-FAM-Cys膜導入後"},
    {"n":1414,"v":1.7e-3,"q":"5-FAM-Cys膜導入後"},{"n":1412,"v":1.55e-3,"q":"5-FAM-Cys膜導入後"},{"n":1410,"v":1.6e-3,"q":"5-FAM-Cys膜導入後"},{"n":1408,"v":1.5e-3,"q":"5-FAM-Cys膜導入後"},{"n":1406,"v":1.95e-3,"q":"5-FAM-Cys膜導入後"},{"n":1404,"v":1.4e-3,"q":"5-FAM-Cys膜導入後"},{"n":1402,"v":0.9e-3,"q":"5-FAM-Cys膜導入後"},{"n":1400,"v":1.5e-3,"q":"5-FAM-Cys膜導入後"}
  ],
  "annS": [{"x":1691.6,"y":5.71e-3,"t":"1637 cm⁻¹"},{"x":1589.5,"y":2.69e-3,"t":"1513 cm⁻¹"},{"x":1499.1,"y":4.23e-3,"t":"1418 cm⁻¹"}],
  "leadS": [{"x":1641.6,"y":5.17e-3,"x2":1636.6,"y2":3.45e-3,"k":1},{"x":1529,"y":2.04e-3,"x2":1516.6,"y2":1.18e-3,"k":2},{"x":1443.6,"y":3.77e-3,"x2":1420.7,"y2":1.72e-3,"k":3}],
  "polS": [{"x":1787.7,"y":8.68e-3,"t":"ssp"}],
  "ulS": [{"x":1786.6,"x2":1753.3,"y":8.03e-3}]
},
"spacing": 33,
"resolve": {"scale": {"color": "independent", "strokeDash": "independent"}, "legend": {"color": "independent", "strokeDash": "independent"}},
"vconcat": [
  {
    "width": 320, "height": 172,
    "view": {"stroke": null},
    "title": {"text": "(a)", "anchor": "start", "frame": "bounds", "offset": -14},
    "layer": [
      {"layer": [
        {"data": {"name": "abs"}, "mark": {"type": "line", "strokeWidth": 2},
         "encoding": {
           "x": {"field": "wl", "type": "quantitative", "scale": {"domain": [400, 600], "nice": false}, "axis": {"values": [400, 450, 500, 550, 600], "title": "wavelength / nm", "titlePadding": 5}},
           "y": {"field": "a", "type": "quantitative", "scale": {"domain": [0, 0.013], "nice": false, "zero": false}, "axis": {"title": "Abs", "values": [0, 0.0025, 0.005, 0.0075, 0.01, 0.0125], "labelExpr": "datum.value == 0 ? '0' : abs(datum.value - 0.005) < 1e-9 ? '5' : abs(datum.value - 0.01) < 1e-9 ? '10x10⁻³' : ''", "tickSize": {"condition": {"test": "abs(datum.value / 0.005 - round(datum.value / 0.005)) < 1e-6", "value": 7}, "value": 4}, "minExtent": 75, "maxExtent": 75, "titlePadding": 0}},
           "color": {"field": "s", "type": "nominal", "scale": {"domain": ["マレイミド膜基板(左軸)", "5-FAM-Cys膜導入後(左軸)", "5-FAM-Cys溶液の吸光係数(右軸)"], "range": ["#ff0000", "#000000", "#000000"]}, "legend": {"orient": "none", "legendX": 14, "legendY": 0, "title": null, "labelFont": "Noto Sans CJK JP", "labelFontSize": 17, "labelColor": "black", "labelLimit": 500, "symbolSize": 900, "symbolStrokeWidth": 2.5, "clipHeight": 17, "rowPadding": 1, "labelOffset": 10, "padding": 0}},
           "strokeDash": {"field": "s", "type": "nominal", "scale": {"domain": ["マレイミド膜基板(左軸)", "5-FAM-Cys膜導入後(左軸)", "5-FAM-Cys溶液の吸光係数(右軸)"], "range": [[1, 0], [1, 0], [4, 4]]}, "legend": {"orient": "none", "legendX": 14, "legendY": 0, "title": null, "labelFont": "Noto Sans CJK JP", "labelFontSize": 17, "labelColor": "black", "labelLimit": 500, "symbolSize": 900, "symbolStrokeWidth": 2.5, "clipHeight": 17, "rowPadding": 1, "labelOffset": 10, "padding": 0}}
         }},
        {"data": {"name": "annA"}, "mark": {"type": "text", "align": "left", "baseline": "middle", "fontSize": 18, "font": "Liberation Sans", "color": "black"},
         "encoding": {"x": {"field": "x", "type": "quantitative"}, "y": {"field": "y", "type": "quantitative"}, "text": {"field": "t"}}},
        {"data": {"name": "leadA"}, "mark": {"type": "rule", "color": "black", "strokeWidth": 0.8},
         "encoding": {"x": {"field": "x", "type": "quantitative"}, "y": {"field": "y", "type": "quantitative"}, "x2": {"field": "x2"}, "y2": {"field": "y2"}}}
      ]},
      {"data": {"name": "eps"}, "mark": {"type": "line", "strokeWidth": 2.5, "color": "black", "strokeDash": [4, 4]},
       "encoding": {
         "x": {"field": "wl", "type": "quantitative"},
         "y": {"field": "e", "type": "quantitative", "scale": {"domain": [0, 200000], "nice": false}, "axis": {"orient": "right", "title": "ε / L•mol⁻¹ •cm⁻¹", "titleAngle": 90, "values": [0, 50000, 100000, 150000, 200000], "labelExpr": "datum.value == 0 ? '0' : datum.value == 100000 ? '1' : datum.value == 200000 ? '2x10⁵' : ''", "tickSize": {"condition": {"test": "datum.value % 100000 == 0", "value": 7}, "value": 4}, "minExtent": 51, "maxExtent": 51, "titlePadding": 2}}
       }}
    ],
    "resolve": {"scale": {"y": "independent"}}
  },
  {
    "spacing": 17,
    "resolve": {"scale": {"color": "independent"}, "legend": {"color": "independent"}},
    "vconcat": [
      {
        "width": 320, "height": 159,
        "title": {"text": "(b)", "anchor": "start", "frame": "bounds", "offset": -18},
        "layer": [
          {"data": {"name": "sfgP"}, "mark": {"type": "line", "strokeWidth": 2},
           "encoding": {
             "x": {"field": "n", "type": "quantitative", "scale": {"domain": [1400, 1800], "reverse": true, "nice": false}, "axis": {"values": [1400, 1500, 1600, 1700, 1800], "format": "d", "title": "wavenumber / cm⁻¹", "titlePadding": 5}},
             "y": {"field": "v", "type": "quantitative", "scale": {"domain": [0, 0.0004], "nice": false}, "axis": {"title": "SFG intensitiy", "values": [0, 0.0001, 0.0002, 0.0003, 0.0004], "labelExpr": "datum.value == 0 ? '0' : abs(datum.value - 0.0002) < 1e-12 ? '2' : abs(datum.value - 0.0004) < 1e-12 ? '4x10⁻⁴' : ''", "tickSize": {"condition": {"test": "abs(datum.value / 0.0002 - round(datum.value / 0.0002)) < 1e-6", "value": 7}, "value": 4}, "minExtent": 75, "maxExtent": 75, "titlePadding": 0}},
             "color": {"field": "p", "type": "nominal", "scale": {"domain": ["5-FAM-Cys膜導入後"], "range": ["#000000"]}, "legend": {"orient": "none", "legendX": 59, "legendY": 8, "title": null, "labelFont": "Liberation Serif, Noto Sans CJK JP", "labelFontSize": 23, "labelColor": "black", "labelLimit": 500, "symbolSize": 1444, "symbolStrokeWidth": 2.5, "clipHeight": 26, "labelOffset": 10, "padding": 0}}
           }},
          {"data": {"name": "polP"}, "mark": {"type": "text", "align": "left", "baseline": "middle", "fontSize": 20, "font": "Liberation Serif", "color": "black"},
           "encoding": {"x": {"field": "x", "type": "quantitative"}, "y": {"field": "y", "type": "quantitative"}, "text": {"field": "t"}}},
          {"data": {"name": "annP"}, "mark": {"type": "text", "align": "left", "baseline": "middle", "fontSize": 18, "font": "Liberation Sans", "color": "black"},
           "encoding": {"x": {"field": "x", "type": "quantitative"}, "y": {"field": "y", "type": "quantitative"}, "text": {"field": "t"}}},
          {"data": {"name": "leadP"}, "mark": {"type": "rule", "color": "black", "strokeWidth": 0.8},
           "encoding": {"x": {"field": "x", "type": "quantitative"}, "y": {"field": "y", "type": "quantitative"}, "x2": {"field": "x2"}, "y2": {"field": "y2"}}},
          {"data": {"name": "leadP"}, "transform": [{"filter": "datum.k == 1"}], "mark": {"type": "point", "shape": "triangle-down", "filled": true, "size": 28, "opacity": 1, "color": "black", "angle": -18},
           "encoding": {"x": {"field": "x2", "type": "quantitative"}, "y": {"field": "y2", "type": "quantitative"}}},
          {"data": {"name": "leadP"}, "transform": [{"filter": "datum.k == 2"}], "mark": {"type": "point", "shape": "triangle-down", "filled": true, "size": 28, "opacity": 1, "color": "black", "angle": 10},
           "encoding": {"x": {"field": "x2", "type": "quantitative"}, "y": {"field": "y2", "type": "quantitative"}}},
          {"data": {"name": "leadP"}, "transform": [{"filter": "datum.k == 3"}], "mark": {"type": "point", "shape": "triangle-down", "filled": true, "size": 28, "opacity": 1, "color": "black", "angle": 33},
           "encoding": {"x": {"field": "x2", "type": "quantitative"}, "y": {"field": "y2", "type": "quantitative"}}},
          {"data": {"name": "ulP"}, "mark": {"type": "rule", "color": "black", "strokeWidth": 1},
           "encoding": {"x": {"field": "x", "type": "quantitative"}, "y": {"field": "y", "type": "quantitative"}, "x2": {"field": "x2"}}}
        ]
      },
      {
        "width": 320, "height": 155,
        "layer": [
          {"data": {"name": "sfgS"}, "mark": {"type": "line", "strokeWidth": 2},
           "encoding": {
             "x": {"field": "n", "type": "quantitative", "scale": {"domain": [1400, 1800], "reverse": true, "nice": false}, "axis": {"values": [1400, 1500, 1600, 1700, 1800], "format": "d", "title": "wavenumber / cm⁻¹", "titlePadding": 5}},
             "y": {"field": "v", "type": "quantitative", "scale": {"domain": [0, 0.01], "nice": false}, "axis": {"title": "SFG intensitiy", "values": [0, 0.0025, 0.005, 0.0075, 0.01], "labelExpr": "datum.value == 0 ? '0' : abs(datum.value - 0.005) < 1e-9 ? '5' : abs(datum.value - 0.01) < 1e-9 ? '10x10⁻³' : ''", "tickSize": {"condition": {"test": "abs(datum.value / 0.005 - round(datum.value / 0.005)) < 1e-6", "value": 7}, "value": 4}, "minExtent": 75, "maxExtent": 75, "titlePadding": 0}},
             "color": {"field": "q", "type": "nominal", "scale": {"domain": ["5-FAM-Cys膜導入後"], "range": ["#000000"]}, "legend": {"orient": "none", "legendX": 59, "legendY": 8, "title": null, "labelFont": "Liberation Serif, Noto Sans CJK JP", "labelFontSize": 23, "labelColor": "black", "labelLimit": 500, "symbolSize": 1444, "symbolStrokeWidth": 2.5, "clipHeight": 26, "labelOffset": 10, "padding": 0}}
           }},
          {"data": {"name": "polS"}, "mark": {"type": "text", "align": "left", "baseline": "middle", "fontSize": 20, "font": "Liberation Serif", "color": "black"},
           "encoding": {"x": {"field": "x", "type": "quantitative"}, "y": {"field": "y", "type": "quantitative"}, "text": {"field": "t"}}},
          {"data": {"name": "annS"}, "mark": {"type": "text", "align": "left", "baseline": "middle", "fontSize": 18, "font": "Liberation Sans", "color": "black"},
           "encoding": {"x": {"field": "x", "type": "quantitative"}, "y": {"field": "y", "type": "quantitative"}, "text": {"field": "t"}}},
          {"data": {"name": "leadS"}, "mark": {"type": "rule", "color": "black", "strokeWidth": 0.8},
           "encoding": {"x": {"field": "x", "type": "quantitative"}, "y": {"field": "y", "type": "quantitative"}, "x2": {"field": "x2"}, "y2": {"field": "y2"}}},
          {"data": {"name": "leadS"}, "transform": [{"filter": "datum.k == 1"}], "mark": {"type": "point", "shape": "triangle-down", "filled": true, "size": 28, "opacity": 1, "color": "black", "angle": -8},
           "encoding": {"x": {"field": "x2", "type": "quantitative"}, "y": {"field": "y2", "type": "quantitative"}}},
          {"data": {"name": "leadS"}, "transform": [{"filter": "datum.k == 2"}], "mark": {"type": "point", "shape": "triangle-down", "filled": true, "size": 28, "opacity": 1, "color": "black", "angle": -37},
           "encoding": {"x": {"field": "x2", "type": "quantitative"}, "y": {"field": "y2", "type": "quantitative"}}},
          {"data": {"name": "leadS"}, "transform": [{"filter": "datum.k == 3"}], "mark": {"type": "point", "shape": "triangle-down", "filled": true, "size": 28, "opacity": 1, "color": "black", "angle": -30},
           "encoding": {"x": {"field": "x2", "type": "quantitative"}, "y": {"field": "y2", "type": "quantitative"}}},
          {"data": {"name": "ulS"}, "mark": {"type": "rule", "color": "black", "strokeWidth": 1},
           "encoding": {"x": {"field": "x", "type": "quantitative"}, "y": {"field": "y", "type": "quantitative"}, "x2": {"field": "x2"}}}
        ]
      }
    ]
  }
]
}
